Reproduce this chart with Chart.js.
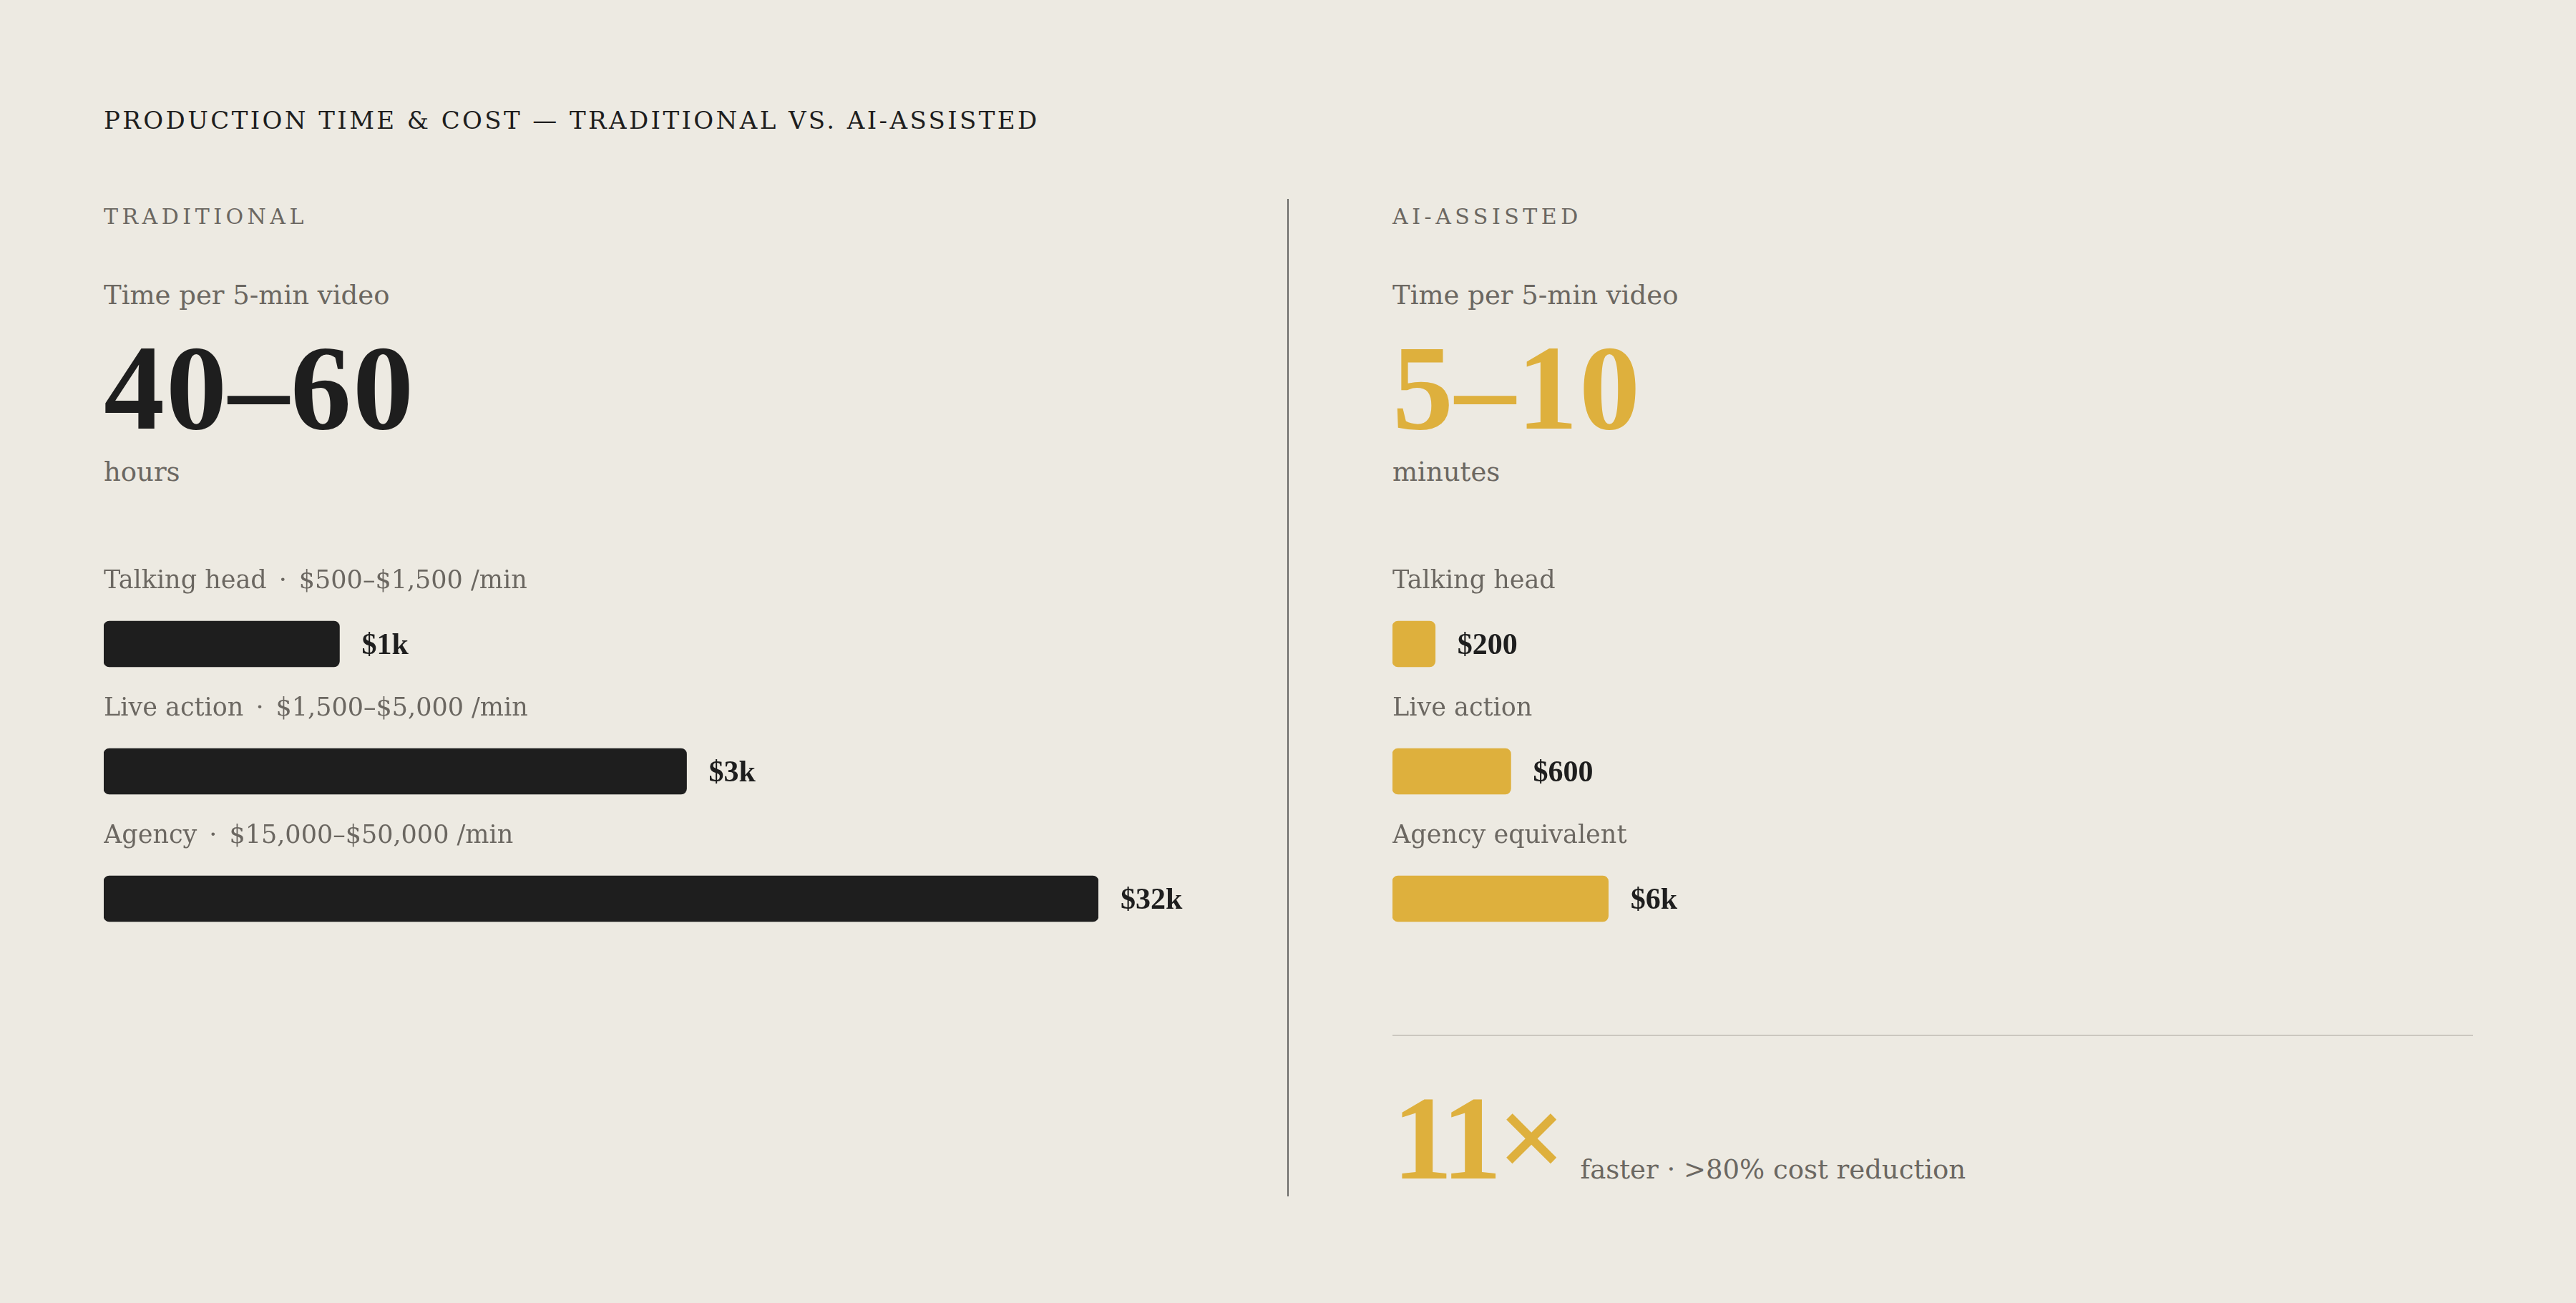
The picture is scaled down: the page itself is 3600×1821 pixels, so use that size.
<!DOCTYPE html>
<html>
<head>
<meta charset="utf-8">
<script src="https://cdn.jsdelivr.net/npm/chart.js@4.4.1/dist/chart.umd.min.js"></script>
<style>
  html, body { margin: 0; padding: 0; }
  body { width: 3600px; height: 1821px; background: #edeae2; position: relative; overflow: hidden;
         font-family: "DejaVu Serif", serif; color: #6b6761; }
  .abs { position: absolute; line-height: 1; white-space: nowrap; }
  .title { left: 145px; top: 151px; font-size: 34px; letter-spacing: 3.4px; color: #1e1e1e; }
  .section { font-size: 30px; letter-spacing: 5.5px; color: #6b6761; }
  .sub { font-size: 37px; color: #6b6761; }
  .big { font-family: "Liberation Serif", serif; font-weight: bold; font-size: 170px; letter-spacing: 2px; }
  .divider { position: absolute; left: 1799px; top: 278px; width: 2px; height: 1394px; background: #6a6a68; }
  .rule { position: absolute; left: 1946px; top: 1446px; width: 1510px; height: 2px; background: #cbc7bf; }
  canvas { position: absolute; }
  .summary { position: absolute; left: 1946px; top: 1506px; display: flex; align-items: baseline; white-space: nowrap; line-height: 1; }
  .summary .num { font-family: "Liberation Serif", serif; font-weight: bold; font-size: 168px; color: #deb03d; letter-spacing: -6px; }
  .summary .txt { font-size: 37px; color: #6b6761; margin-left: 26px; }
</style>
</head>
<body>
<div class="abs title">PRODUCTION TIME &amp; COST — TRADITIONAL VS. AI-ASSISTED</div>

<div class="abs section" style="left:145px; top:288px;">TRADITIONAL</div>
<div class="abs sub" style="left:145px; top:394px;">Time per 5-min video</div>
<div class="abs big" id="tradTime" style="left:145px; top:457px; color:#1e1e1e;"></div>
<div class="abs sub" id="tradUnit" style="left:145px; top:641px;"></div>

<div class="divider"></div>

<div class="abs section" style="left:1946px; top:288px;">AI-ASSISTED</div>
<div class="abs sub" style="left:1946px; top:394px;">Time per 5-min video</div>
<div class="abs big" id="aiTime" style="left:1946px; top:457px; color:#deb03d;"></div>
<div class="abs sub" id="aiUnit" style="left:1946px; top:641px;"></div>

<canvas id="tradChart" width="1540" height="625" style="left:145px; top:720px;"></canvas>
<canvas id="aiChart" width="1540" height="625" style="left:1946px; top:720px;"></canvas>

<div class="rule"></div>
<div class="summary" id="summary"><span class="num" id="speedup"></span><span class="txt" id="summaryText"></span></div>

<script>
// ---- Data ----
const tradTimeRange = '40–60';
const tradTimeUnit = 'hours';
const aiTimeRange = '5–10';
const aiTimeUnit = 'minutes';

const tradCategories = ['Talking head', 'Live action', 'Agency'];
const tradRanges = ['$500–$1,500 /min', '$1,500–$5,000 /min', '$15,000–$50,000 /min'];
const tradCostLabels = ['$1k', '$3k', '$32k'];
const tradBarLength = [23.7, 58.6, 100];   // bar length, % of track

const aiCategories = ['Talking head', 'Live action', 'Agency equivalent'];
const aiCostLabels = ['$200', '$600', '$6k'];
const aiBarLength = [4.3, 11.9, 21.7];     // bar length, % of track

const speedupLabel = '11×';
const summaryText = 'faster · >80% cost reduction';

// ---- Text ----
document.getElementById('tradTime').textContent = tradTimeRange;
document.getElementById('tradUnit').textContent = tradTimeUnit;
document.getElementById('aiTime').textContent = aiTimeRange;
document.getElementById('aiUnit').textContent = aiTimeUnit;
document.getElementById('speedup').textContent = speedupLabel;
document.getElementById('summaryText').textContent = summaryText;

const GRAY = '#6b6761';
const DARK = '#1e1e1e';
const GOLD = '#deb03d';

const rowLabels = {
  id: 'rowLabels',
  afterDatasetsDraw(chart, args, opts) {
    const ctx = chart.ctx;
    const meta = chart.getDatasetMeta(0);
    const left = chart.chartArea.left;
    meta.data.forEach((bar, i) => {
      ctx.save();
      ctx.textBaseline = 'alphabetic';
      ctx.textAlign = 'left';
      ctx.font = '35px "DejaVu Serif"';
      ctx.fillStyle = GRAY;
      const y = bar.y - 78;
      let x = left;
      ctx.fillText(opts.names[i], x, y);
      if (opts.ranges) {
        x += ctx.measureText(opts.names[i]).width + 17;
        ctx.fillText('·', x, y);
        x += ctx.measureText('·').width + 17;
        ctx.fillText(opts.ranges[i], x, y);
      }
      ctx.font = 'bold 42px "Liberation Serif"';
      ctx.fillStyle = DARK;
      ctx.fillText(opts.values[i], bar.x + 31, bar.y + 14);
      ctx.restore();
    });
  }
};

function makeChart(id, cats, values, color, names, ranges, valueLabels) {
  return new Chart(document.getElementById(id), {
    type: 'bar',
    data: {
      labels: cats,
      datasets: [{
        data: values,
        backgroundColor: color,
        borderWidth: 0,
        borderRadius: 8,
        borderSkipped: false,
        barThickness: 64
      }]
    },
    options: {
      indexAxis: 'y',
      responsive: false,
      animation: false,
      layout: { padding: { top: 91, right: 150, left: 0, bottom: 0 } },
      scales: {
        x: { display: false, min: 0, max: 100 },
        y: { display: false }
      },
      plugins: {
        legend: { display: false },
        tooltip: { enabled: false },
        rowLabels: { names: names, ranges: ranges, values: valueLabels }
      }
    },
    plugins: [rowLabels]
  });
}

makeChart('tradChart', tradCategories, tradBarLength, DARK, tradCategories, tradRanges, tradCostLabels);
makeChart('aiChart', aiCategories, aiBarLength, GOLD, aiCategories, null, aiCostLabels);
</script>
</body>
</html>
